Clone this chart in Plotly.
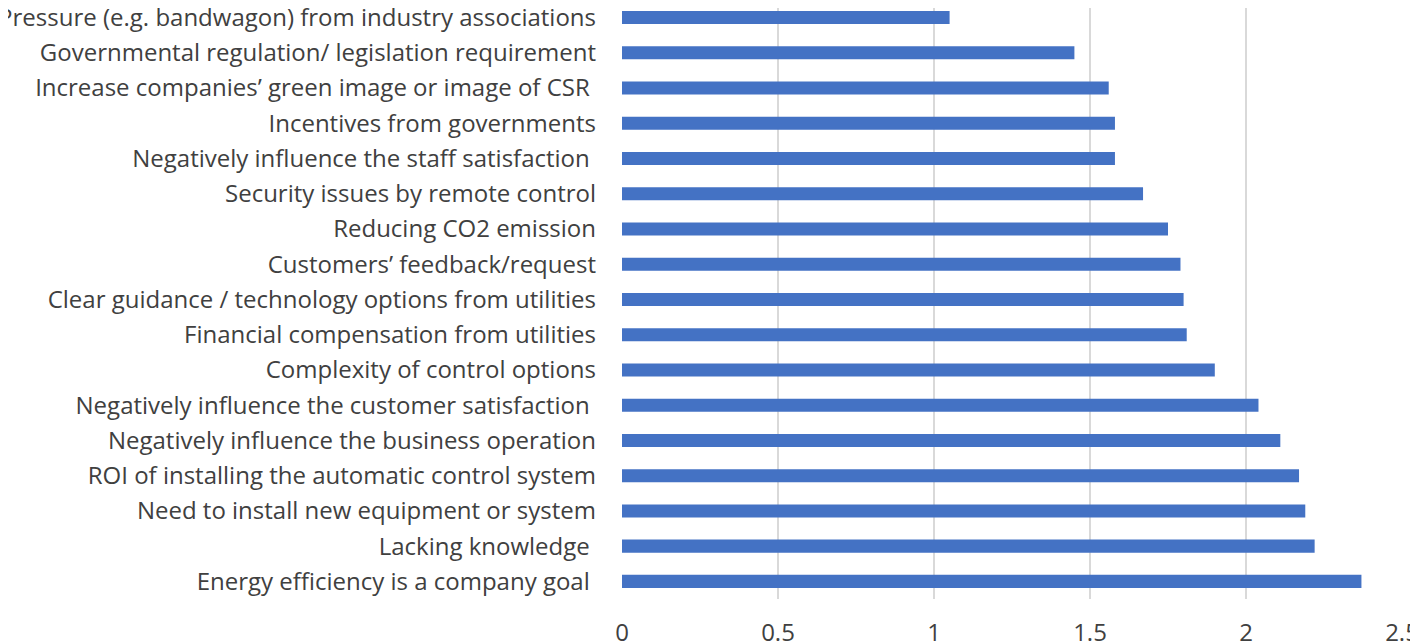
import plotly.graph_objects as go

categories = [
    "Pressure (e.g. bandwagon) from industry associations",
    "Governmental regulation/ legislation requirement",
    "Increase companies’ green image or image of CSR\u00a0",
    "Incentives from governments",
    "Negatively influence the staff satisfaction\u00a0",
    "Security issues by remote control",
    "Reducing CO2 emission",
    "Customers’ feedback/request",
    "Clear guidance / technology options from utilities",
    "Financial compensation from utilities",
    "Complexity of control options",
    "Negatively influence the customer satisfaction\u00a0",
    "Negatively influence the business operation",
    "ROI of installing the automatic control system",
    "Need to install new equipment or system",
    "Lacking knowledge\u00a0",
    "Energy efficiency is a company goal\u00a0",
]
values = [1.05, 1.45, 1.56, 1.58, 1.58, 1.67, 1.75, 1.79, 1.80, 1.81, 1.90,
          2.04, 2.11, 2.17, 2.19, 2.22, 2.37]
x_ticks = [0, 0.5, 1, 1.5, 2, 2.5]
x_ticklabels = ["0", "0.5", "1", "1.5", "2", "2.5"]

FONT = "Open Sans"
fig = go.Figure(go.Bar(
    y=categories, x=values, orientation="h",
    marker=dict(color="#4472C4", line=dict(width=0)),
))

# page body adds an 8px margin, so the figure is sized/offset to compensate
fig.update_layout(
    width=1410, height=636,
    margin=dict(l=614, r=16, t=0, b=45),
    paper_bgcolor="white", plot_bgcolor="white",
    bargap=0.63,
    showlegend=False,
    font=dict(family=FONT, size=24, color="#404040"),
)
fig.update_xaxes(
    range=[0, 2.5], tickvals=x_ticks, ticktext=x_ticklabels,
    showgrid=True, gridcolor="#d9d9d9", gridwidth=2,
    zeroline=False, showline=False, automargin=False,
    ticks="", ticklabelstandoff=17, ticklabeloverflow="allow",
    tickfont=dict(family=FONT, size=24, color="#404040"),
)
fig.update_yaxes(
    range=[len(categories) - 0.5, -0.27],
    showgrid=False, zeroline=False, showline=False,
    automargin=False, ticklabeloverflow="allow",
    ticks="", ticklabelstandoff=25,
    tickfont=dict(family=FONT, size=24, color="#404040"),
)

fig.write_html("out.html")
